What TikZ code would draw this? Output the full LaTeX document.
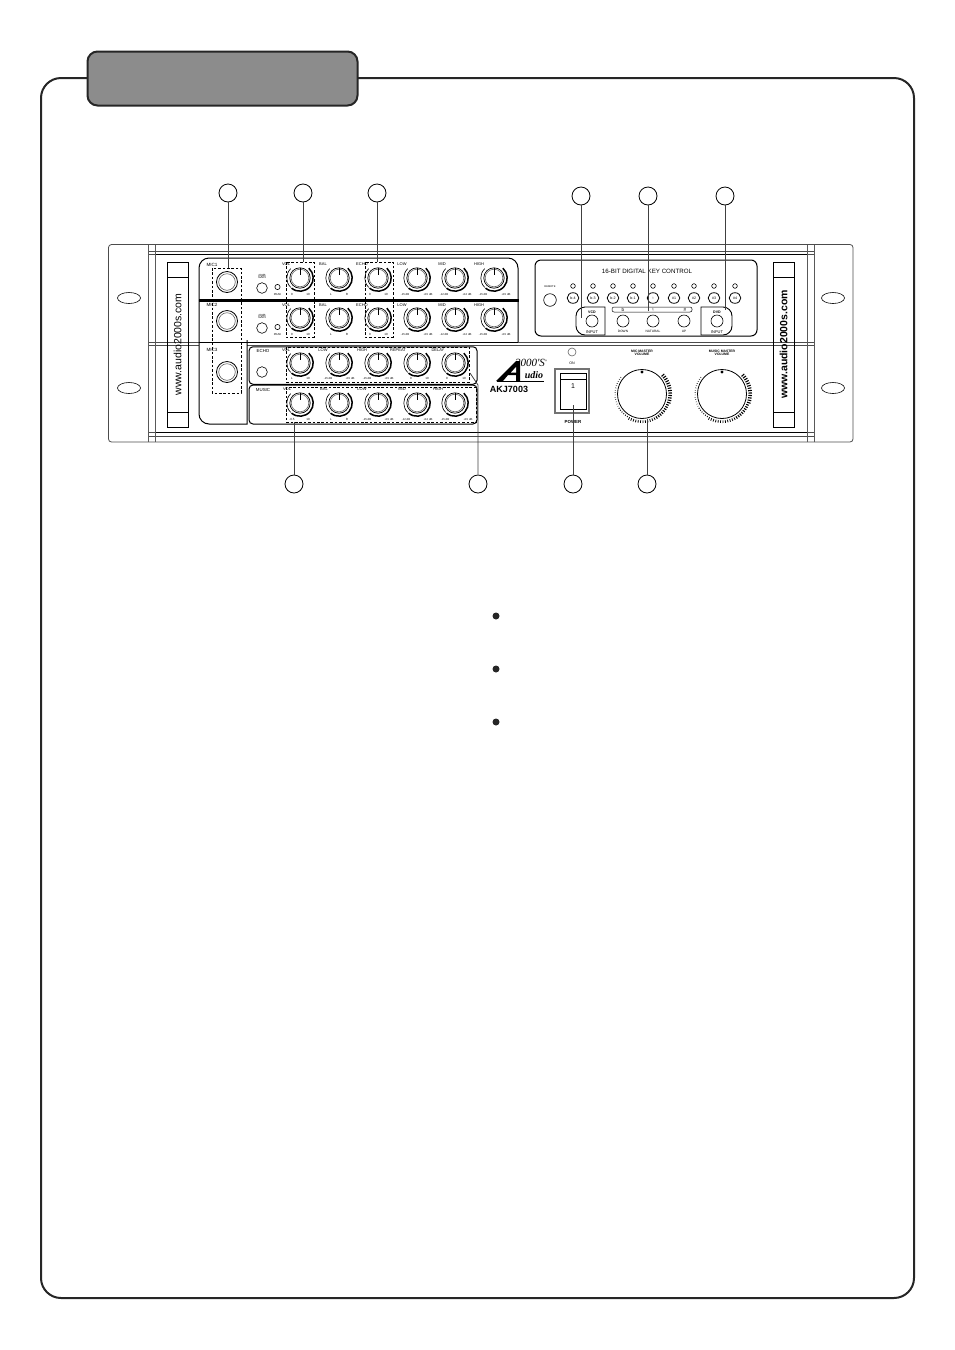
\documentclass[tikz,border=0pt]{standalone}
\usepackage{fontspec}
\setmainfont{Liberation Sans}
\newfontfamily\logofont{Liberation Serif}
\newfontfamily\symfont{DejaVu Sans}
\newcounter{lb}
\newcommand{\lbl}[4][3.6]{\stepcounter{lb}\node[txt,font=\fontsize{#1}{#1}\selectfont] (t\thelb) at (#2,#3) {#4};}
\newcommand{\knob}[2]{%
  \draw[knobring] (#1,#2) circle[radius=10.2];
  \draw[knobring,black!60,line width=.6pt] (#1,#2) circle[radius=8.8];
  \draw[line width=.6pt] (#1,#2) ++(135:13.2) arc[start angle=135,end angle=225,radius=13.2];
  \draw[line width=1.5pt] (#1,#2) ++(130:13.2) arc[start angle=130,end angle=-48,radius=13.2];
  \draw[line width=.8pt] (#1,#2-10) -- (#1,#2-3);
}
\newcommand{\bigknob}[2]{%
  \draw[line width=.8pt] (#1,#2) circle[radius=24.5];
  \foreach \a in {-42,-37,...,222} {
    \pgfmathsetmacro{\w}{\a<60 ? 1.1 : (\a<150 ? .8 : .4)}
    \pgfmathsetmacro{\rr}{\a<20 ? 30 : (\a<120 ? 29 : 27.5)}
    \draw[line width=\w pt] (#1,#2) ++(\a:26.3) -- ++(\a:\rr-26.3);
  }
  \fill (#1,#2-22) circle[radius=1.7];
}
\tikzset{
  txt/.style={inner sep=0pt,outer sep=0pt,align=center},
  pl/.style={line width=.6pt},
  hl/.style={line width=.8pt},
  knobring/.style={line width=.7pt},
  dsh/.style={line width=.6pt,dash pattern=on 2.6pt off 1.8pt},
  box/.style={line width=1pt},
  call/.style={circle,draw,line width=.8pt,minimum size=18pt,inner sep=0pt},
  lead/.style={line width=.8pt,black!75},
}
\begin{document}
\begin{tikzpicture}[x=1pt,y=-1pt]
\useasboundingbox (0,0) rectangle (954,1350);
% page frame
\draw[line width=2pt,rounded corners=20pt,black!85] (41,78) rectangle (914,1298);
\node[draw=black!85,fill=black!45,line width=2pt,rounded corners=10pt,minimum width=270pt,minimum height=54pt,inner sep=0pt] (tab) at (222.5,78.5) {};
% rack outline
\draw[hl,black!70,rounded corners=3pt] (108.5,244.5) rectangle (853,442);
\foreach \yy in {251,254,342.5,345.6,432,436}{\draw[hl,black!70] (148,\yy) -- (814,\yy);}
\draw[line width=.7pt] (155,254) -- (808,254);
\draw[line width=.7pt] (155,432) -- (808,432);
\foreach \xx in {148,155,807,814}{\draw[hl,black!65] (\xx,244.5) -- (\xx,442);}
% slots
\foreach \xx/\yy in {129/298,129/388,833/298,833/388}{\draw[pl] (\xx,\yy) ellipse[x radius=11.5,y radius=5.5];}
% label strips
\foreach \xx in {167,773}{
  \draw[line width=.7pt] (\xx,262) rectangle (\xx+21,427);
  \draw[line width=.7pt] (\xx,277) -- (\xx+21,277) (\xx,412) -- (\xx+21,412);
}
\node[txt,rotate=90,font=\fontsize{10.5}{10.5}\selectfont] (urlL) at (177.5,344.5) {www.audio2000s.com};
\node[txt,rotate=90,font=\bfseries\fontsize{10.5}{10.5}\selectfont] (urlR) at (783.5,344.5) {www.audio2000s.com};
% mic block
\fill[white] (199,258) rectangle (518,342);
\fill[white] (199,342) rectangle (247,424);
\draw[box] (199,300) [rounded corners=10pt] -- (199,258) -- (518,258) [sharp corners] -- (518,342);
\draw[line width=3pt] (199,300.5) -- (519,300.5);
\draw[box] (247,340) -- (247,424) [rounded corners=10pt] -- (199,424) [sharp corners] -- (199,300);
\draw[box] (199,342) -- (518,342);
% echo / music boxes
\node[draw,line width=1pt,rounded corners=4pt,minimum width=228pt,minimum height=37.5pt,inner sep=0pt] (echobox) at (363,365.5) {};
\node[draw,line width=1pt,rounded corners=4pt,minimum width=228pt,minimum height=39pt,inner sep=0pt] (musicbox) at (363,404.5) {};
% dashed groups
\draw[dsh] (212,268) rectangle (241,393);
\draw[dsh] (286,262) rectangle (314,337);
\draw[dsh] (365,262) rectangle (393,337);
\draw[dsh] (286,347) rectangle (469,382);
\draw[dsh] (286,387) rectangle (476,422);
% mic jacks
\foreach \yy in {282,321,372}{
  \draw[line width=.8pt] (227,\yy) circle[radius=10.5];
  \draw[line width=.5pt,black!70] (227,\yy) circle[radius=8.3];
}
% small controls
\foreach \yy in {288,328}{
  \draw[pl] (262,\yy) circle[radius=5.3];
  \draw[pl] (277.5,\yy-1) circle[radius=2.6];
  \lbl[3]{262}{\yy-11.5}{20dB\\[-.3pt]GAIN}
  \lbl[2.8]{277.5}{\yy+6.5}{PEAK}
}
\draw[pl] (262,372) circle[radius=5.3];
% knobs
\foreach \yy in {278,318}{\foreach \xx in {300,339,378,417,455,494}{\knob{\xx}{\yy}}}
\foreach \yy in {363,403}{\foreach \xx in {300,339,378,417,455}{\knob{\xx}{\yy}}}
% row labels
\foreach \yy/\m in {265/MIC1,305/MIC2,350/MIC3}{\lbl[4.6]{212}{\yy}{\m}}
\foreach \yy in {264,305}{
  \lbl[4]{286}{\yy}{VOL}\lbl[4]{323}{\yy}{BAL}\lbl[4]{362}{\yy}{ECHO}
  \lbl[4]{402}{\yy}{LOW}\lbl[4]{442}{\yy}{MID}\lbl[4]{479}{\yy}{HIGH}
}
\foreach \yy in {294,334}{
  \lbl[3]{292}{\yy}{0}\lbl[3]{308}{\yy}{10}
  \lbl[3]{331}{\yy}{L}\lbl[3]{347}{\yy}{R}
  \lbl[3]{370}{\yy}{0}\lbl[3]{386}{\yy}{10}
  \lbl[2.8]{405}{\yy}{-15 dB}\lbl[2.8]{428}{\yy}{+15 dB}
  \lbl[2.8]{444}{\yy}{-12 dB}\lbl[2.8]{467}{\yy}{+12 dB}
  \lbl[2.8]{483}{\yy}{-15 dB}\lbl[2.8]{506}{\yy}{+15 dB}
}
\lbl[4.4]{263}{350.5}{ECHO}\lbl[4]{286}{350}{VOL}\lbl[4]{323}{350}{LOW}\lbl[4]{362}{350}{HIGH}\lbl[4]{398}{350}{REPEAT}\lbl[4]{438}{350}{DELAY}
\lbl[3]{292}{378}{L}\lbl[3]{308}{378}{10}\lbl[2.8]{328}{378}{-15 dB}\lbl[2.8]{350}{378}{+15 dB}\lbl[2.8]{367}{378}{-15 dB}\lbl[2.8]{389}{378}{+15 dB}\lbl[3]{411}{378}{0}\lbl[3]{427}{378}{10}\lbl[3]{447}{378}{0}\lbl[3]{464}{378}{10}
\lbl[4.4]{263}{389.5}{MUSIC}\lbl[4]{287}{389}{VOL}\lbl[4]{324}{389}{BAL}\lbl[4]{362}{389}{LOW}\lbl[4]{402}{389}{MID}\lbl[4]{438}{389}{HIGH}
\lbl[3]{292}{419}{-0.5}\lbl[3]{308}{419}{10}\lbl[3]{331}{419}{L}\lbl[3]{347}{419}{R}\lbl[2.8]{367}{419}{-15 dB}\lbl[2.8]{389}{419}{+15 dB}\lbl[2.8]{406}{419}{-12 dB}\lbl[2.8]{428}{419}{+12 dB}\lbl[2.8]{445}{419}{-15 dB}\lbl[2.8]{468}{419}{+15 dB}
% key control panel
\node[draw,line width=1pt,rounded corners=6pt,fill=white,minimum width=222pt,minimum height=76pt,inner sep=0pt] (keypanel) at (646,298) {};
\lbl[6.2]{647}{271}{16-BIT DIGITAL KEY CONTROL}
\lbl[2.6]{550}{286.5}{REMOTE}
\draw[pl] (550,300) circle[radius=6.3];
\foreach \xx in {573,593,613,633,653,674,694,714,735}{\draw[pl] (\xx,286) circle[radius=2.3];}
\foreach \xx/\s in {573/b-4,593/b-3,613/b-2,633/b-1,653/{\symfont ♮},674/\#1,694/\#2,714/\#3,735/\#4}{
  \draw[line width=.8pt] (\xx,298) ellipse[x radius=5.8,y radius=5.3];
  \lbl[3.6]{\xx}{298}{\s}
}
\draw[line width=.5pt,rounded corners=2pt] (612,307) rectangle (692,312);
\lbl[4.6]{623}{309.5}{b}\lbl[4.6]{653}{309.5}{\symfont ♮}\lbl[4.6]{685}{309.5}{\#}
\foreach \xx/\s in {623/DOWN,653/NATURAL,684/UP}{
  \draw[pl] (\xx,321) circle[radius=6];
  \lbl[3.2]{\xx}{331}{\s}
}
\draw[line width=.9pt] (605,307) [rounded corners=9pt] -- (576,307) -- (576,335) [sharp corners] -- (605,335) -- cycle;
\draw[line width=.9pt] (701,307) [rounded corners=9pt] -- (732,307) -- (732,335) [sharp corners] -- (701,335) -- cycle;
\foreach \xx/\s in {592/VCD,717/DVD}{
  \lbl[3.6]{\xx}{312}{\textbf{\s}}
  \draw[pl] (\xx,321) circle[radius=6];
  \lbl[4]{\xx}{332}{INPUT}
}
% logo
\fill[black] (496,381) -- (516,361) -- (520,361) -- (520,381) -- (516,381) -- (516,375) -- (508,375) -- (503,381) -- cycle;
\fill[white] (511,372.5) -- (516,367) -- (516,372.5) -- cycle;
\node[txt,font=\logofont\itshape\fontsize{11}{11}\selectfont] (logotop) at (531,362.5) {2000'S\raisebox{3pt}{\fontsize{5}{5}\selectfont°}};
\node[txt,font=\logofont\bfseries\itshape\fontsize{10}{10}\selectfont] (logobot) at (534,375.5) {udio};
\draw[line width=.9pt] (497,381.5) -- (544,381.5);
\node[txt,font=\bfseries\fontsize{9}{9}\selectfont] (model) at (509,389) {AKJ7003};
% power
\draw[black!60,line width=.6pt] (572,352) circle[radius=4];
\lbl[3.6]{572}{363}{ON}
\draw[line width=1.6pt,black!55] (555,369) rectangle (589,413);
\draw[line width=.9pt] (560,373) rectangle (586,409);
\draw[line width=.6pt] (560,379) -- (586,379);
\lbl[7]{573}{386}{1}
\lbl[4.4]{573}{422}{\textbf{POWER}}
% master knobs
\bigknob{642}{394}\bigknob{722}{394}
\lbl[3.4]{642}{353}{\textbf{MIC MASTER}\\[-.4pt]\textbf{VOLUME}}
\lbl[3.4]{722}{353}{\textbf{MUSIC MASTER}\\[-.4pt]\textbf{VOLUME}}
% callouts
\node[call] (c1) at (228,193) {};
\node[call] (c2) at (303,193) {};
\node[call] (c3) at (377,193) {};
\node[call] (c4) at (581,196) {};
\node[call] (c5) at (648,196) {};
\node[call] (c6) at (725,196) {};
\node[call] (c7) at (294,484) {};
\node[call] (c8) at (478,484) {};
\node[call] (c9) at (573,484) {};
\node[call] (c10) at (647,484) {};
\coordinate (e1) at (228,268);
\coordinate (e2) at (303,262);
\coordinate (e3) at (377,262);
\coordinate (e4) at (581,318);
\coordinate (e5) at (648,311);
\coordinate (e6) at (725,310);
\coordinate (e7) at (294,422);
\coordinate (e8a) at (478,385);
\coordinate (e8b) at (470,373);
\coordinate (e9) at (573,405);
\coordinate (e10) at (647,419);
\foreach \c/\e in {c1/e1,c2/e2,c3/e3,c4/e4,c5/e5,c6/e6,c7/e7,c9/e9,c10/e10}{\draw[lead] (\c) -- (\e);}
\draw[lead] (c8) -- (e8a) -- (e8b);
% bullets
\foreach \n/\yy in {a/616,b/669,c/722}{\node[circle,fill=black!85,minimum size=7pt,inner sep=0pt] (bul\n) at (496,\yy) {};}
\end{tikzpicture}
\end{document}
